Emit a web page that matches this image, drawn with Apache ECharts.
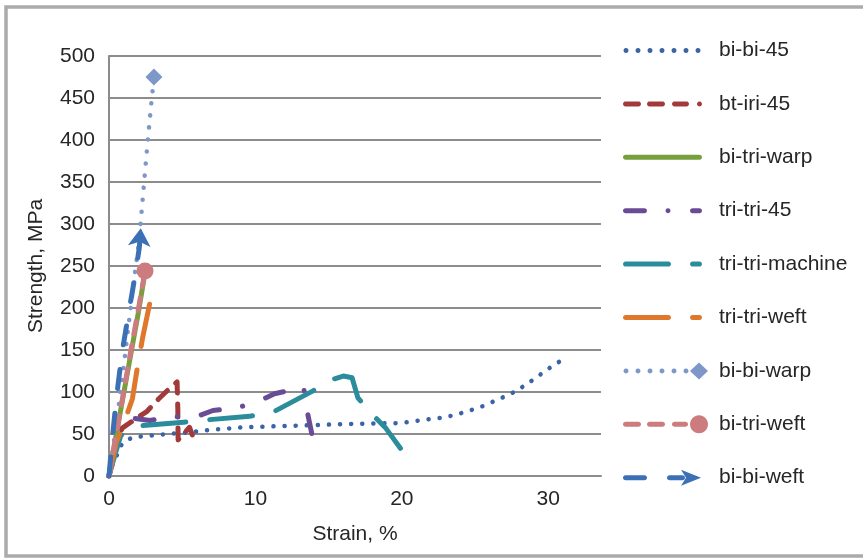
<!DOCTYPE html>
<html>
<head>
<meta charset="utf-8">
<script src="https://cdn.jsdelivr.net/npm/echarts@6/dist/echarts.min.js"></script>
<style>
  html, body { margin: 0; padding: 0; background: #fff; }
  #chart { width: 863px; height: 560px; }
</style>
</head>
<body>
<div id="chart"></div>
<script>
// [strain %, strength MPa]
var biBi45 = [[0,0],[0.27,15],[0.6,27],[0.9,39],[1.6,46],[3.3,49],[5.5,52],[7.0,55],[9.2,58],[12.9,60],[16.5,62],[19.9,63],[20.8,65],[21.5,67],[23.0,70],[24.3,76],[25.5,83],[26.7,92],[27.8,101],[29.0,115],[30.2,130],[31.3,142]];
var btIri45 = [[0,0],[0.4,35],[0.9,57],[1.9,69],[2.6,77],[3.4,92],[4.0,102],[4.65,112],[4.7,80],[4.72,43],[5.5,58],[5.75,46]];
var biTriWarp = [[0,0],[0.5,50],[1.0,98],[1.5,146],[2.0,194],[2.4,236]];
var triTri45 = [[0,0],[0.5,38],[1.0,60],[1.6,69],[2.8,66],[4.3,71],[5.7,69],[7.1,78],[8.7,81],[10.1,88],[11.3,98],[12.4,102],[13.3,105],[13.5,80],[13.9,46]];
var triTriMachine = [[0,0],[0.4,25],[0.8,48],[1.5,57],[2.3,60],[5.1,64],[6.8,67],[9.6,71],[11.2,76],[13.9,101],[15.1,114],[16.0,119],[16.6,117],[17.0,93],[18.0,73],[18.9,57],[19.9,33]];
var triTriWeft = [[0,0],[0.5,40],[1.0,62],[1.6,92],[1.9,125],[2.3,165],[2.8,207]];
var biBiWarp = [[0,0],[0.5,62],[1.0,130],[1.64,224],[2.07,282],[2.35,340],[2.64,398],[2.87,440],[3.07,475]];
var biTriWeft = [[0,0],[0.5,50],[1.0,100],[1.5,150],[2.0,198],[2.46,244]];
var biBiWeft = [[0,0],[0.2,40],[0.5,92],[0.9,148],[1.16,175],[1.4,200],[1.62,222],[1.85,246],[2.07,272],[2.17,295]];

var names = ['bi-bi-45', 'bt-iri-45', 'bi-tri-warp', 'tri-tri-45', 'tri-tri-machine',
             'tri-tri-weft', 'bi-bi-warp', 'bi-tri-weft', 'bi-bi-weft'];
var colors = ['#3a64a7', '#a23a3b', '#77a03d', '#6a4b96', '#2b8d9c',
              '#df782d', '#7c97c8', '#cc7c7e', '#3b70b6'];

var xMax = 33.6, xStep = 10;
var yMax = 500, yStep = 50;

var FONT = 'Liberation Sans, Arial, sans-serif';
var FS = 21;

// ---- legend icons (small paths, 92 x 18 box) ----
var W = 92, H = 18, CY = 9;
function dot(cx, r, n) {
  n = n || 12;
  var s = '';
  for (var i = 0; i < n; i++) {
    var a = Math.PI * 2 * i / n;
    s += (i ? 'L' : 'M') + (cx + r * Math.cos(a)).toFixed(2) + ' ' + (CY + r * Math.sin(a)).toFixed(2) + ' ';
  }
  return s + 'Z ';
}
function bar(x1, x2, r) {
  var a = x1 + r, b = x2 - r, i, t;
  var s = 'M' + a + ' ' + (CY - r) + ' L' + b + ' ' + (CY - r) + ' ';
  for (i = 1; i <= 8; i++) {
    t = -Math.PI / 2 + Math.PI * i / 8;
    s += 'L' + (b + r * Math.cos(t)).toFixed(2) + ' ' + (CY + r * Math.sin(t)).toFixed(2) + ' ';
  }
  s += 'L' + a + ' ' + (CY + r) + ' ';
  for (i = 1; i < 8; i++) {
    t = Math.PI / 2 + Math.PI * i / 8;
    s += 'L' + (a + r * Math.cos(t)).toFixed(2) + ' ' + (CY + r * Math.sin(t)).toFixed(2) + ' ';
  }
  return s + 'Z ';
}
var box = 'M0 0 L0.01 0 Z M' + W + ' ' + H + ' L' + (W - 0.01) + ' ' + H + ' Z ';
var R = 2.5;
var icons = [
  [4, 16, 28, 40, 52, 64, 76].map(function (c) { return dot(c, R); }).join(''),
  bar(1, 19, R) + bar(25, 43, R) + bar(50, 67, R) + dot(77.5, R),
  bar(1, 80, R),
  bar(1, 25, R) + dot(46, R) + bar(68, 80, R),
  bar(1, 49, R) + bar(68, 80, R),
  bar(1, 49, R) + bar(68, 80, R),
  [4, 16, 28, 40, 52, 64].map(function (c) { return dot(c, R); }).join('') + 'M77 0.5 L86 9 L77 17.5 L68 9 Z ',
  bar(1, 19, R) + bar(25, 43, R) + bar(50, 66, R) + dot(77, 9, 28),
  bar(1, 25, R) + bar(45, 63, R) + 'M59 1 L79 9 L59 17 L64 9 Z '
].map(function (p) { return 'path://' + box + p; });

function endPoint(arr, sym) {
  var d = arr.slice(0, arr.length - 1);
  var last = arr[arr.length - 1];
  d.push(Object.assign({ value: last }, sym));
  return d;
}

var styles = [
  { width: 4.5, type: [0.1, 11] },
  { width: 5, type: [13, 11] },
  { width: 5, type: 'solid' },
  { width: 5, type: [19, 23.5, 0.1, 24.5] },
  { width: 5, type: [43, 24] },
  { width: 5, type: [43, 24] },
  { width: 4.5, type: [0.1, 12] },
  { width: 5, type: [13, 11] },
  { width: 5, type: [19, 25] }
];

var seriesData = [
  biBi45, btIri45, biTriWarp, triTri45, triTriMachine, triTriWeft,
  endPoint(biBiWarp, { symbol: 'diamond', symbolSize: 17 }),
  endPoint(biTriWeft, { symbol: 'circle', symbolSize: 17 }),
  endPoint(biBiWeft, { symbol: 'arrow', symbolSize: [17, 18], symbolRotate: -5 })
];

var series = names.map(function (n, i) {
  return {
    name: n,
    type: 'line',
    data: seriesData[i],
    symbol: 'none',
    color: colors[i],
    lineStyle: { width: styles[i].width, type: styles[i].type, cap: 'round', join: 'round', color: colors[i] },
    itemStyle: { color: colors[i] },
    z: 3 + i
  };
});

var chart = echarts.init(document.getElementById('chart'));
chart.setOption({
  animation: false,
  backgroundColor: '#fff',
  graphic: [{
    type: 'rect',
    shape: { x: 6, y: 7, width: 900, height: 549 },
    style: { fill: 'none', stroke: '#ababab', lineWidth: 3.5 },
    silent: true
  }],
  grid: { left: 109, right: 262, top: 56, bottom: 84 },
  legend: {
    orient: 'vertical',
    left: 617,
    top: 35,
    itemWidth: W,
    itemHeight: H,
    itemGap: 32.4,
    itemStyle: { borderWidth: 0 },
    textStyle: { fontSize: FS, color: '#262626', fontFamily: FONT },
    data: names.map(function (n, i) { return { name: n, icon: icons[i] }; })
  },
  xAxis: {
    type: 'value',
    min: 0,
    max: xMax,
    interval: xStep,
    name: 'Strain, %',
    nameLocation: 'middle',
    nameGap: 48,
    nameTextStyle: { fontSize: FS, color: '#262626', fontFamily: FONT },
    axisLine: { show: true, lineStyle: { color: '#8c8c8c', width: 2 } },
    axisTick: { show: false },
    splitLine: { show: false },
    axisLabel: {
      fontSize: FS, color: '#262626', fontFamily: FONT, margin: 13, showMaxLabel: false,
      formatter: function (v) { return v % xStep === 0 ? String(v) : ''; }
    }
  },
  yAxis: {
    type: 'value',
    min: 0,
    max: yMax,
    interval: yStep,
    name: 'Strength, MPa',
    nameLocation: 'middle',
    nameGap: 62,
    nameTextStyle: { fontSize: FS, color: '#262626', fontFamily: FONT },
    axisLine: { show: true, lineStyle: { color: '#8c8c8c', width: 2 } },
    axisTick: { show: false },
    splitLine: { show: true, lineStyle: { color: '#8c8c8c', width: 2 } },
    axisLabel: { fontSize: FS, color: '#262626', fontFamily: FONT, margin: 14 }
  },
  series: series
});
</script>
</body>
</html>
